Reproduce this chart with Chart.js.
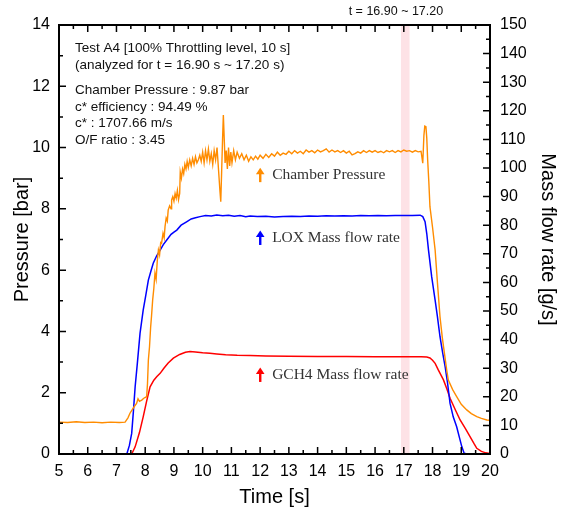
<!DOCTYPE html>
<html>
<head>
<meta charset="utf-8">
<script src="https://cdn.jsdelivr.net/npm/chart.js@4.4.1/dist/chart.umd.min.js"></script>
<style>
  html, body { margin: 0; padding: 0; background: #fff; }
  #wrap { width: 564px; height: 519px; }
</style>
</head>
<body>
<div id="wrap"><canvas id="chart" width="564" height="519"></canvas></div>
<script>
// Chamber pressure [bar] vs time [s]
const timeP = [5.0, 5.3, 5.6, 5.9, 6.2, 6.5, 6.8, 7.1, 7.3, 7.4, 7.47, 7.55, 7.62, 7.7, 7.75, 7.8, 7.88, 7.95, 8.05, 8.08,
  8.11, 8.15, 8.19, 8.22, 8.26, 8.3, 8.34, 8.38, 8.42, 8.46, 8.5, 8.54, 8.57, 8.62, 8.66, 8.69, 8.73, 8.77, 8.8, 8.85,
  8.9, 8.92, 8.96, 9.0, 9.04, 9.08, 9.12, 9.16, 9.2, 9.22, 9.26, 9.3, 9.34, 9.38, 9.42, 9.46, 9.5, 9.55, 9.6, 9.65,
  9.7, 9.75, 9.8, 9.85, 9.9, 9.95, 10.0, 10.05, 10.1, 10.15, 10.2, 10.25, 10.3, 10.35, 10.4, 10.45, 10.5, 10.55, 10.6, 10.63,
  10.66, 10.69, 10.72, 10.75, 10.78, 10.82, 10.86, 10.9, 10.94, 10.98, 11.02, 11.08, 11.14, 11.2, 11.28, 11.36, 11.44, 11.52, 11.6, 11.68,
  11.76, 11.84, 11.92, 12.0, 12.1, 12.2, 12.3, 12.4, 12.5, 12.6, 12.7, 12.8, 12.9, 13.0, 13.1, 13.2, 13.3, 13.4, 13.5, 13.6,
  13.7, 13.8, 13.9, 14.0, 14.1, 14.2, 14.3, 14.4, 14.5, 14.6, 14.7, 14.8, 14.9, 15.0, 15.1, 15.2, 15.3, 15.4, 15.5, 15.6,
  15.7, 15.8, 15.9, 16.0, 16.1, 16.2, 16.3, 16.4, 16.5, 16.6, 16.7, 16.8, 16.9, 17.0, 17.1, 17.2, 17.3, 17.4, 17.5, 17.6,
  17.66, 17.7, 17.73, 17.77, 17.8, 17.83, 17.87, 17.91, 18.0, 18.09, 18.17, 18.26, 18.34, 18.43, 18.5, 18.55, 18.7, 18.84, 19.0, 19.19,
  19.35, 19.54, 19.7, 19.89, 20.0];
const pressure = [1.04, 1.03, 1.05, 1.03, 1.04, 1.02, 1.04, 1.03, 1.04, 1.18, 1.33, 1.45, 1.55, 1.65, 1.8, 1.72, 1.76, 1.82, 1.87, 2.3,
  3.07, 3.5, 4.15, 4.5, 5.03, 5.4, 5.9, 5.7, 6.3, 6.66, 6.5, 6.9, 6.88, 7.2, 7.05, 7.42, 7.7, 7.6, 7.96, 8.1,
  8.0, 8.29, 8.4, 8.25, 8.5, 8.35, 8.6, 8.3, 8.5, 9.2, 9.0, 9.3, 9.15, 9.45, 9.3, 9.55, 9.35, 9.6, 9.4, 9.65,
  9.45, 9.7, 9.5, 9.6, 9.75, 9.55, 9.85, 9.5, 9.9, 9.6, 9.95, 9.55, 9.8, 9.45, 9.9, 9.6, 10.0, 9.3, 8.6, 8.23,
  9.2, 10.2, 11.06, 10.3, 9.5, 9.9, 9.3, 10.0, 9.4, 9.85, 9.5, 9.9, 9.6, 9.85, 9.65, 9.8, 9.6, 9.75, 9.55, 9.7,
  9.6, 9.72, 9.62, 9.75, 9.65, 9.78, 9.68, 9.8, 9.72, 9.85, 9.75, 9.82, 9.78, 9.88, 9.8, 9.9, 9.82, 9.88, 9.8, 9.92,
  9.85, 9.9, 9.83, 9.92, 9.86, 9.9, 9.96, 9.85, 9.92, 9.86, 9.9, 9.84, 9.9, 9.82, 9.88, 9.76, 9.8, 9.86, 9.82, 9.9,
  9.84, 9.9, 9.85, 9.9, 9.84, 9.88, 9.83, 9.9, 9.86, 9.9, 9.84, 9.9, 9.86, 9.92, 9.88, 9.9, 9.85, 9.9, 9.86, 9.88,
  9.49, 10.4, 10.7, 10.68, 10.3, 9.6, 8.9, 8.07, 7.4, 6.66, 5.6, 4.48, 3.8, 3.18, 2.7, 2.41, 2.1, 1.87, 1.62, 1.44,
  1.32, 1.22, 1.16, 1.11, 1.1];

// LOX mass flow rate [g/s]
const timeLox = [5.0, 7.36, 7.45, 7.53, 7.59, 7.65, 7.72, 7.82, 7.93, 8.02, 8.11, 8.2, 8.28, 8.4, 8.52, 8.63, 8.75, 8.9, 9.0, 9.1,
  9.25, 9.44, 9.6, 9.75, 9.91, 10.1, 10.3, 10.49, 10.7, 10.9, 11.1, 11.3, 11.5, 11.65, 11.9, 12.2, 12.5, 12.8, 13.1, 13.4,
  13.7, 14.0, 14.3, 14.6, 14.9, 15.2, 15.5, 15.8, 16.1, 16.4, 16.7, 17.0, 17.3, 17.57, 17.66, 17.74, 17.8, 17.86, 17.97, 18.09,
  18.17, 18.26, 18.35, 18.44, 18.52, 18.61, 18.72, 18.84, 18.93, 19.02, 19.1, 19.2, 20.0];
const lox = [0, 0, 3, 7.2, 15, 23.5, 31, 42.2, 50.3, 55.5, 60.8, 64, 66.7, 69.3, 71.3, 73.2, 74.8, 76.8, 77.6, 78.3,
  80, 81.2, 82.2, 82.6, 83.0, 83.4, 83.2, 83.6, 83.3, 83.5, 83.1, 83.4, 83.0, 83.2, 83.0, 83.1, 82.9, 83.0, 83.1, 83.0,
  83.2, 83.1, 83.3, 83.2, 83.3, 83.2, 83.4, 83.3, 83.4, 83.3, 83.4, 83.4, 83.4, 83.5, 83.0, 81.2, 77, 71.3, 62, 53.8,
  48, 41, 35.5, 30.5, 25, 17.7, 13, 9.5, 6, 2.5, 0.3, 0, 0];

// GCH4 mass flow rate [g/s]
const timeCh4 = [5.0, 7.53, 7.65, 7.8, 7.93, 8.05, 8.17, 8.3, 8.4, 8.52, 8.65, 8.8, 8.98, 9.2, 9.4, 9.56, 9.75, 10.0, 10.25, 10.49,
  10.8, 11.2, 11.65, 12.2, 13.0, 14.0, 15.0, 16.0, 17.0, 17.6, 17.8, 17.91, 18.0, 18.09, 18.2, 18.38, 18.5, 18.61, 18.8, 18.96,
  19.15, 19.31, 19.45, 19.54, 19.7, 19.85, 20.0];
const ch4 = [0, 0, 2.5, 7.5, 13, 18.5, 23.5, 25.8, 27, 28.2, 30, 31.8, 33.5, 34.8, 35.6, 35.8, 35.7, 35.4, 35.2, 35.0,
  34.7, 34.5, 34.4, 34.3, 34.2, 34.1, 34.1, 34.0, 34.0, 34.0, 33.9, 33.6, 32.8, 31.7, 29.4, 25.9, 22.7, 19.5, 15.3, 11.9,
  8.8, 6.0, 3.5, 2.0, 0.9, 0.4, 0.2];

// analysis window
const bandStart = 16.90;
const bandEnd = 17.20;

// info text (top left)
const infoLines = [
  'Test A4 [100% Throttling level, 10 s]',
  '(analyzed for t = 16.90 s ~ 17.20 s)',
  'Chamber Pressure : 9.87 bar',
  'c* efficiency : 94.49 %',
  'c* : 1707.66 m/s',
  'O/F ratio : 3.45'
];

// arrow labels: time [s], level [bar]
const noteTexts = ['Chamber Pressure', 'LOX Mass flow rate', 'GCH4 Mass flow rate'];
const noteTimes = [12.0, 12.0, 12.0];
const noteLevels = [9.1, 7.05, 2.58];
const noteColors = ['#ff8c00', '#0000ff', '#ff0000'];

const toXY = (xs, ys) => xs.map((t, i) => ({ x: t, y: ys[i] }));

// pink band + window label
const bandPlugin = {
  id: 'band',
  beforeDatasetsDraw(chart) {
    const { ctx, chartArea: a, scales: { x } } = chart;
    const x0 = x.getPixelForValue(bandStart);
    const x1 = x.getPixelForValue(bandEnd);
    ctx.save();
    ctx.fillStyle = 'rgba(250, 190, 200, 0.45)';
    ctx.fillRect(x0, a.top, x1 - x0, a.bottom - a.top);
    ctx.restore();
  },
  afterDraw(chart) {
    const { ctx, scales: { x } } = chart;
    ctx.save();
    ctx.font = '12.5px "Liberation Sans", Arial, sans-serif';
    ctx.fillStyle = '#111';
    ctx.textAlign = 'center';
    ctx.textBaseline = 'middle';
    ctx.fillText('t = 16.90 ~ 17.20', x.getPixelForValue(bandStart) - 5, 12);
    ctx.restore();
  }
};

// frame with inward ticks on all four sides
const framePlugin = {
  id: 'frame',
  afterDraw(chart) {
    const { ctx, chartArea: a, scales: { x, y, y1 } } = chart;
    ctx.save();
    ctx.strokeStyle = '#000';
    ctx.lineWidth = 1.5;
    ctx.beginPath();
    for (let v = 5; v <= 20.001; v += 0.5) {
      const px = x.getPixelForValue(v);
      const len = Math.abs(v - Math.round(v)) < 1e-6 ? 7 : 4;
      ctx.moveTo(px, a.bottom); ctx.lineTo(px, a.bottom - len);
      ctx.moveTo(px, a.top); ctx.lineTo(px, a.top + len);
    }
    for (let v = 0; v <= 14; v += 1) {
      const py = y.getPixelForValue(v);
      const len = v % 2 === 0 ? 7 : 4;
      ctx.moveTo(a.left, py); ctx.lineTo(a.left + len, py);
    }
    for (let v = 0; v <= 150; v += 5) {
      const py = y1.getPixelForValue(v);
      const len = v % 10 === 0 ? 7 : 4;
      ctx.moveTo(a.right, py); ctx.lineTo(a.right - len, py);
    }
    ctx.stroke();
    ctx.lineWidth = 2;
    ctx.strokeRect(a.left, a.top, a.right - a.left, a.bottom - a.top);
    ctx.restore();
  }
};

// info block and arrow labels
const notesPlugin = {
  id: 'notes',
  afterDraw(chart) {
    const { ctx, chartArea: a, scales: { x, y } } = chart;
    ctx.save();
    ctx.font = '13.5px "Liberation Sans", Arial, sans-serif';
    ctx.fillStyle = '#111';
    ctx.textBaseline = 'middle';
    const lineY = [48, 65, 90, 107, 123, 140];
    infoLines.forEach((s, i) => ctx.fillText(s, a.left + 16, lineY[i]));

    ctx.font = '15.5px "Liberation Serif", "Times New Roman", serif';
    noteTexts.forEach((s, i) => {
      const px = x.getPixelForValue(noteTimes[i]);
      const py = y.getPixelForValue(noteLevels[i]);
      ctx.fillStyle = noteColors[i];
      ctx.fillRect(px - 1.1, py - 2, 2.4, 9);
      ctx.beginPath();
      ctx.moveTo(px - 4.2, py - 1);
      ctx.lineTo(px + 0.1, py - 7.5);
      ctx.lineTo(px + 4.4, py - 1);
      ctx.closePath();
      ctx.fill();
      ctx.fillStyle = '#333';
      ctx.fillText(s, px + 12, py);
    });
    ctx.restore();
  }
};

const tickFont = { family: '"Liberation Sans", Arial, sans-serif', size: 16 };
const titleFont = { family: '"Liberation Sans", Arial, sans-serif', size: 20 };

new Chart(document.getElementById('chart'), {
  type: 'line',
  data: {
    datasets: [
      { label: 'Chamber Pressure', data: toXY(timeP, pressure), yAxisID: 'y', borderColor: '#ff8c00', borderWidth: 1.4 },
      { label: 'LOX Mass flow rate', data: toXY(timeLox, lox), yAxisID: 'y1', borderColor: '#0000ff', borderWidth: 1.5 },
      { label: 'GCH4 Mass flow rate', data: toXY(timeCh4, ch4), yAxisID: 'y1', borderColor: '#ff0000', borderWidth: 1.5 }
    ]
  },
  options: {
    responsive: false,
    animation: false,
    devicePixelRatio: 1,
    layout: { padding: { top: 25, left: 0, right: 0, bottom: 0 } },
    elements: { point: { radius: 0 }, line: { tension: 0 } },
    plugins: { legend: { display: false }, tooltip: { enabled: false } },
    scales: {
      x: {
        type: 'linear', min: 5, max: 20,
        grid: { display: false, drawTicks: false }, border: { display: false },
        ticks: { stepSize: 1, font: tickFont, color: '#000', padding: 8, maxRotation: 0 },
        title: { display: true, text: 'Time [s]', font: titleFont, color: '#000', padding: { top: 0, bottom: 10 } },
        afterFit: s => { s.height = 65; }
      },
      y: {
        position: 'left', min: 0, max: 14,
        grid: { display: false, drawTicks: false }, border: { display: false },
        ticks: { stepSize: 2, font: tickFont, color: '#000', padding: 9 },
        title: { display: true, text: 'Pressure [bar]', font: titleFont, color: '#000', padding: { top: 10, bottom: 0 } },
        afterFit: s => { s.width = 59; }
      },
      y1: {
        position: 'right', min: 0, max: 150,
        grid: { display: false, drawTicks: false }, border: { display: false },
        ticks: { stepSize: 10, font: tickFont, color: '#000', padding: 10 },
        title: { display: true, text: 'Mass flow rate [g/s]', font: titleFont, color: '#000', padding: { top: 4, bottom: 0 } },
        afterFit: s => { s.width = 74; }
      }
    }
  },
  plugins: [bandPlugin, framePlugin, notesPlugin]
});
</script>
</body>
</html>
